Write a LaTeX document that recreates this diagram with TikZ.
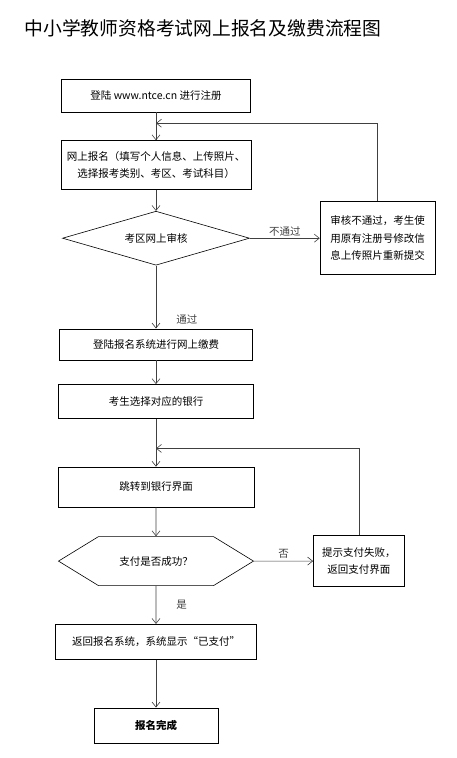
\documentclass[tikz,border=0pt]{standalone}
\usepackage{fontspec}
\newfontfamily\cjk{Noto Sans CJK SC}
\usetikzlibrary{positioning,calc,arrows.meta,shapes.geometric,shapes.symbols}

\begin{document}
\begin{tikzpicture}[
  font=\cjk\fontsize{10.5pt}{17.5pt}\selectfont,
  box/.style  = {draw, line width=0.6pt, align=center, inner sep=2pt},
  test/.style = {draw, diamond, shape aspect=3.46, line width=0.6pt, inner sep=0pt,
                 minimum width=187pt, minimum height=54pt},
  hex/.style  = {draw, signal, signal to=west and east, signal pointer angle=63,
                 line width=0.6pt, inner sep=0pt,
                 minimum width=195pt, minimum height=49pt},
  flow/.style = {-{Straight Barb[length=5pt,width=8pt]}, line width=0.6pt, black!75},
  lbl/.style  = {font=\cjk\fontsize{10.5pt}{12pt}\selectfont, inner sep=2pt}
]
\useasboundingbox (0,0) rectangle (457pt,-758pt);

% ------------------------------------------------------------------ titolo --
\node[font=\cjk\fontsize{18.8pt}{20pt}\selectfont] (title) at (203pt,-28pt)
  {中小学教师资格考试网上报名及缴费流程图};

% ------------------------------------------------------------ il flusso --
\node[box, minimum width=189pt, minimum height=33pt] (reg) at (156pt,-95.5pt)
  {登陆 www.ntce.cn 进行注册};
\node[box, minimum width=190pt, minimum height=49pt, below=28pt of reg] (apply)
  {网上报名（填写个人信息、上传照片、\\选择报考类别、考区、考试科目）};
\node[test, below=21pt of apply] (audit) {考区网上审核};
\node[box, minimum width=193pt, minimum height=31pt, below=63pt of audit] (login)
  {登陆报名系统进行网上缴费};
\node[box, minimum width=195pt, minimum height=34pt, below=24pt of login] (bank)
  {考生选择对应的银行};
\node[box, minimum width=196pt, minimum height=40pt, below=48pt of bank] (jump)
  {跳转到银行界面};
\node[hex, below=29pt of jump] (pay) {支付是否成功？};
\node[box, minimum width=201pt, minimum height=35pt, below=38pt of pay] (back)
  {返回报名系统，系统显示“已支付”};
\node[box, minimum width=124pt, minimum height=35pt, below=48pt of back,
      font=\cjk\bfseries\fontsize{10.5pt}{12pt}\selectfont] (done) {报名完成};

% --------------------------------------------------------- i due ritorni --
\node[box, minimum width=115pt, minimum height=73pt, right=70pt of audit] (fail1)
  {审核不通过，考生使\\用原有注册号修改信\\息上传照片重新提交};
\node[box, minimum width=91pt, minimum height=51pt, right=59pt of pay] (fail2)
  {提示支付失败，\\返回支付界面};

% ------------------------------------------------------------------ archi --
\draw[flow] (reg)   -- (apply);
\draw[flow] (apply) -- (audit);
\draw[flow] (audit) -- node[lbl, right=18pt, pos=0.85] {通过} (login);
\draw[flow] (login) -- (bank);
\draw[flow] (bank)  -- (jump);
\draw[flow] (jump)  -- (pay);
\draw[flow] (pay)   -- node[lbl, right=18pt] {是} (back);
\draw[flow] (back)  -- (done);

\draw[flow] (audit) -- node[lbl, above] {不通过} (fail1);
\draw[flow] (pay)   -- node[lbl, above] {否} (fail2);

\coordinate (back1) at ($(reg.south)!0.39!(apply.north)$);
\coordinate (back2) at ($(bank.south)!0.62!(jump.north)$);
\draw[flow] (fail1.north) |- (back1);
\draw[flow] (fail2.north) |- (back2);

\end{tikzpicture}
\end{document}
